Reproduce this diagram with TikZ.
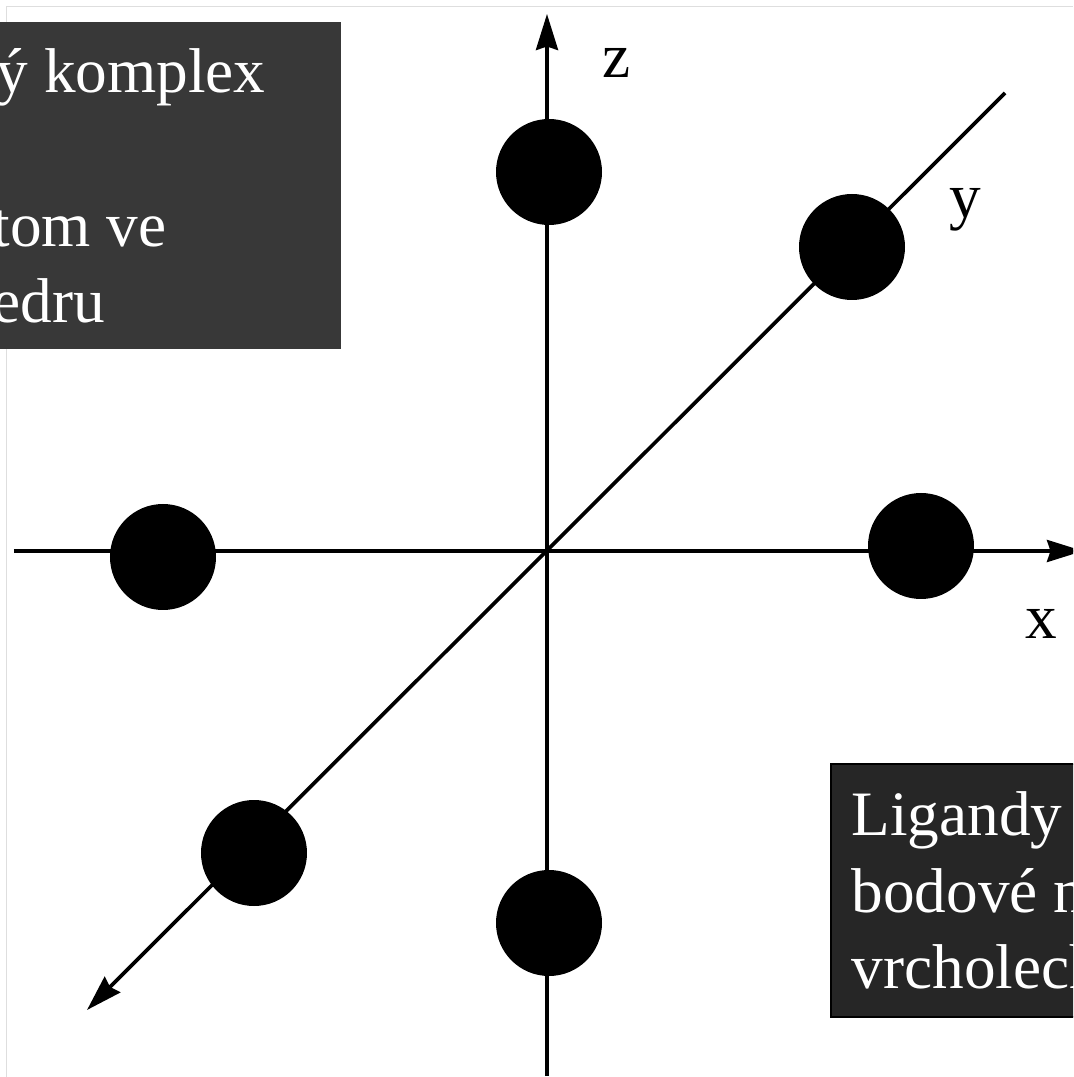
\documentclass[tikz,border=0pt]{standalone}
\usepackage{fontspec}
\setmainfont{Liberation Serif}
\usetikzlibrary{arrows.meta}
\tikzset{
  axis/.style={line width=1.05pt,-{Stealth[length=3.6mm,width=2.2mm,inset=0.35mm]}},
  ligand/.style={circle,fill=black,inner sep=0pt,minimum size=10.6cm/10},
  darkbox/.style={fill=#1,inner sep=0pt,anchor=north west},
  boxtext/.style={text=white,font=\fontsize{18}{21}\selectfont,inner sep=0pt,anchor=base west},
  axislabel/.style={font=\fontsize{18}{21}\selectfont,inner sep=0pt,anchor=base west}
}
\begin{document}
\begin{tikzpicture}
  \clip (-5.47,-5.26) rectangle (5.26,5.51);
  \fill[white] (-5.47,-5.26) rectangle (5.26,5.51);
  % frame
  \draw[line width=0.4pt,color=black!13] (-5.405,-5.26)--(-5.405,5.445)--(5.26,5.445);
  % axes
  \coordinate (zlow) at (0,-5.25);
  \coordinate (ztop) at (0,5.37);
  \coordinate (xlow) at (-5.33,0);
  \coordinate (xtop) at (5.36,0);
  \coordinate (ylow) at (-4.60,-4.59);
  \coordinate (ytop) at (4.58,4.58);
  \draw[axis] (zlow)--(ztop);
  \draw[axis] (xlow)--(xtop);
  \draw[axis] (ytop)--(ylow);
  % ligands
  \node[ligand] (top) at (0.02,3.79) {};
  \node[ligand] (back) at (3.05,3.04) {};
  \node[ligand] (right) at (3.74,0.05) {};
  \node[ligand] (left) at (-3.84,-0.06) {};
  \node[ligand] (front) at (-2.93,-3.02) {};
  \node[ligand] (bottom) at (0.02,-3.72) {};
  \node[axislabel] (zlabel) at (0.55,4.73) {z};
  \node[axislabel] (ylabel) at (4.02,3.33) {y};
  \node[axislabel] (xlabel) at (4.78,-0.87) {x};
  % boxes
  \node[darkbox=black!78,minimum width=3.6cm,minimum height=3.27cm] (upper) at (-5.67,5.30) {};
  \node[boxtext] (upperA) at (-5.51,4.58) {ý komplex};
  \node[boxtext] (upperB) at (-5.55,3.04) {tom ve};
  \node[boxtext] (upperC) at (-5.55,2.28) {edru};
  \node[darkbox=black!85,draw=black,line width=0.5pt,minimum width=2.9cm,minimum height=2.53cm] (lower) at (2.83,-2.12) {};
  \node[boxtext] (lowerA) at (3.04,-2.84) {Ligandy};
  \node[boxtext] (lowerB) at (3.04,-3.61) {bodové n};
  \node[boxtext] (lowerC) at (3.04,-4.37) {vrcholech};
\end{tikzpicture}
\end{document}
